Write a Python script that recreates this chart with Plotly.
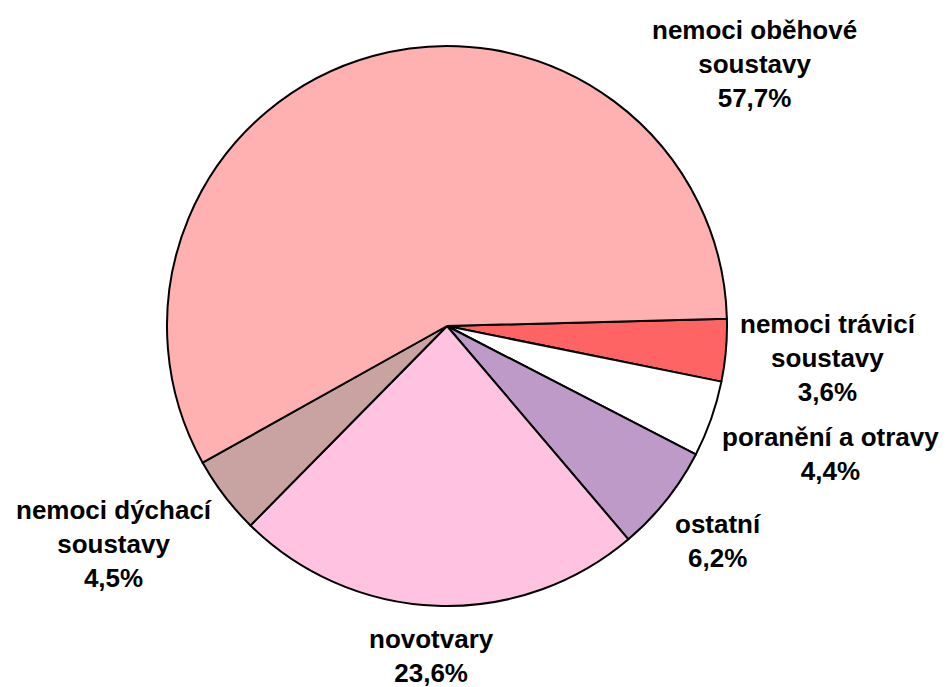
import plotly.graph_objects as go

# Data (clockwise from the slice just below 3 o'clock)
categories = ["nemoci trávicí soustavy", "poranění a otravy", "ostatní",
              "novotvary", "nemoci dýchací soustavy", "nemoci oběhové soustavy"]
values = [3.6, 4.4, 6.2, 23.6, 4.5, 57.7]
label_lines = [["nemoci trávicí", "soustavy"], ["poranění a otravy"], ["ostatní"],
               ["novotvary"], ["nemoci dýchací", "soustavy"], ["nemoci oběhové", "soustavy"]]

colors = ["#FF6464", "#FFFFFF", "#BE9AC8", "#FFC2E0", "#C9A2A2", "#FFB0B0"]

W, H = 949, 687
cx, cy, r = 447, 326, 280

fig = go.Figure()
fig.add_trace(go.Pie(
    labels=categories, values=values, sort=False, direction="clockwise",
    rotation=88.5, textinfo="none", hoverinfo="label+percent",
    marker=dict(colors=colors, line=dict(color="#000000", width=2)),
    domain=dict(x=[(cx - r) / W, (cx + r) / W], y=[1 - (cy + r) / H, 1 - (cy - r) / H]),
    showlegend=False,
))

# label anchor points (pixels)
label_pos = [(828, 358), (830, 454), (718, 541), (431, 656), (114, 544), (754, 64)]

total = sum(values)
for lines, v, (px, py) in zip(label_lines, values, label_pos):
    pct = f"{v / total * 100:.1f}".replace(".", ",") + "%"
    txt = "<br>".join(lines + [pct])
    fig.add_annotation(
        x=px / W, y=1 - py / H, xref="paper", yref="paper",
        text=f"<b>{txt}</b>", showarrow=False, xanchor="center", yanchor="middle",
        align="center",
        font=dict(family="Liberation Sans, Arial, sans-serif", size=26, color="#000000"),
    )

fig.update_layout(
    width=W, height=H, margin=dict(l=0, r=0, t=0, b=0),
    paper_bgcolor="#FFFFFF", plot_bgcolor="#FFFFFF",
)
fig.write_html(
    "out.html",
    config={"displayModeBar": False},
    post_script="document.body.style.margin='0px';document.body.style.overflow='hidden';",
)
